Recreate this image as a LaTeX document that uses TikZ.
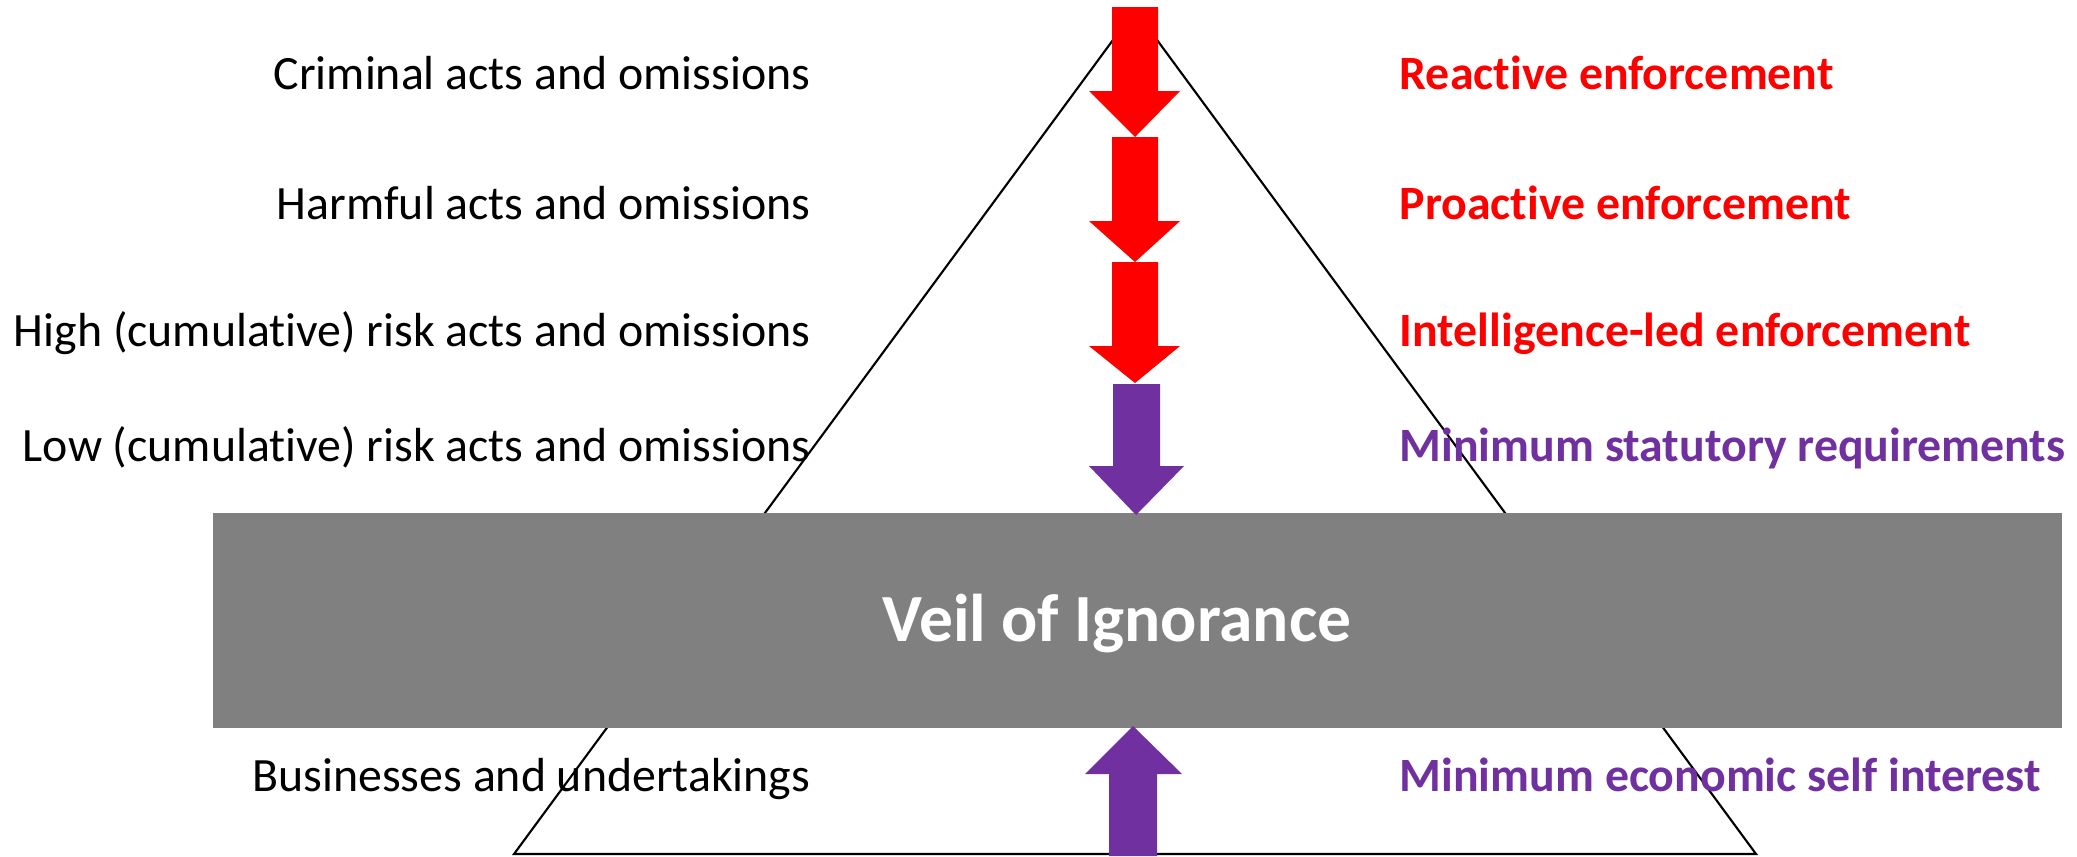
\documentclass[tikz,border=0pt]{standalone}
\usepackage{fontspec}
\setmainfont[Ligatures=NoCommon]{Carlito}
\definecolor{arrred}{HTML}{FF0000}
\definecolor{arrpurple}{HTML}{7030A0}
\definecolor{veilgray}{HTML}{808080}
\begin{document}
\begin{tikzpicture}[x=0.01cm,y=-0.01cm,
  lefttext/.style={anchor=mid east,inner sep=0pt,font=\fontsize{13.6}{16}\selectfont},
  righttext/.style={anchor=mid west,inner sep=0pt,font=\fontsize{13.6}{16}\selectfont\bfseries},
  redtext/.style={righttext,text=arrred},
  purpletext/.style={righttext,text=arrpurple},
  tri/.style={draw=black,line width=0.6pt,line join=miter},
  redarrow/.style={fill=arrred},
  purplearrow/.style={fill=arrpurple}]
\useasboundingbox (0,0) rectangle (2077,856);
% triangle
\coordinate (apex) at (1135,10);
\coordinate (bl) at (514,854);
\coordinate (br) at (1756,854);
\draw[tri] (apex) -- (bl) -- (br) -- cycle;
% veil
\fill[veilgray] (213,513) rectangle (2062,728);
\node[text=white,font=\fontsize{19.2}{22}\selectfont\bfseries] (veil) at (1117,624) {Veil of Ignorance};
% red arrows
\fill[redarrow] (1112,7) -- (1158,7) -- (1158,91) -- (1180,91) -- (1135,137) -- (1089,91) -- (1112,91) -- cycle;
\fill[redarrow] (1112,137) -- (1158,137) -- (1158,221) -- (1180,221) -- (1135,262) -- (1089,221) -- (1112,221) -- cycle;
\fill[redarrow] (1112,262) -- (1158,262) -- (1158,346) -- (1180,346) -- (1135,383) -- (1089,346) -- (1112,346) -- cycle;
% purple arrows
\fill[purplearrow] (1113,384) -- (1160,384) -- (1160,466) -- (1184,466) -- (1136,515) -- (1089,466) -- (1113,466) -- cycle;
\fill[purplearrow] (1109,856) -- (1157,856) -- (1157,774) -- (1182,774) -- (1133,726) -- (1085,774) -- (1109,774) -- cycle;
% left labels
\node[lefttext] (l1) at (811,81) {Criminal acts and omissions};
\node[lefttext] (l2) at (811,211) {Harmful acts and omissions};
\node[lefttext] (l3) at (811,338) {High (cumulative) risk acts and omissions};
\node[lefttext] (l4) at (811,453) {Low (cumulative) risk acts and omissions};
\node[lefttext] (l5) at (811,783) {Businesses and undertakings};
% right labels
\node[redtext] (r1) at (1399,81) {Reactive enforcement};
\node[redtext] (r2) at (1399,211) {Proactive enforcement};
\node[redtext] (r3) at (1399,338) {Intelligence-led enforcement};
\node[purpletext] (r4) at (1399,453) {Minimum statutory requirements};
\node[purpletext] (r5) at (1399,783) {Minimum economic self interest};
\end{tikzpicture}
\end{document}
